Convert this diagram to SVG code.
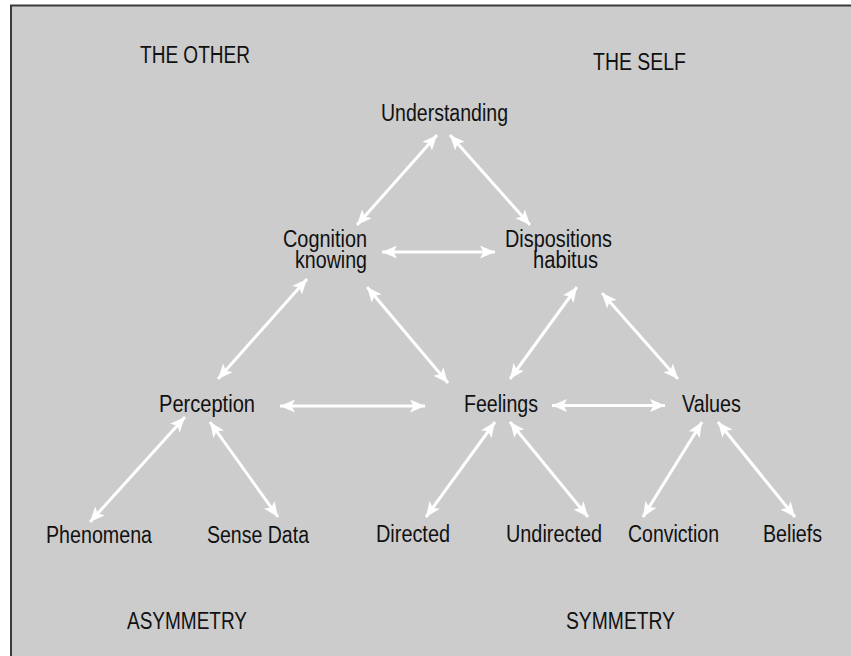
<svg xmlns="http://www.w3.org/2000/svg" width="851" height="656" viewBox="0 0 851 656">
<style>
text{font-family:"Liberation Sans",Arial,sans-serif;font-size:23px;fill:#111;}
.c line{stroke:#fff;stroke-width:3;marker-start:url(#ah);marker-end:url(#ah);}
</style>
<defs>
<marker id="ah" viewBox="0 0 15 13" refX="15" refY="6.5" markerWidth="15" markerHeight="13" markerUnits="userSpaceOnUse" orient="auto-start-reverse">
<path d="M0,0 L15,6.5 L0,13 L3.5,6.5 Z" fill="#fff"/>
</marker>
</defs>
<rect x="0" y="0" width="851" height="656" fill="#fff"/>
<rect x="11" y="5.5" width="850" height="660" fill="#cccccc" stroke="#3a3a3a" stroke-width="2"/>
<g id="labels">
<text x="140" y="63" textLength="110" lengthAdjust="spacingAndGlyphs">THE OTHER</text>
<text x="593" y="70" textLength="93" lengthAdjust="spacingAndGlyphs">THE SELF</text>
<text x="127" y="629" textLength="120" lengthAdjust="spacingAndGlyphs">ASYMMETRY</text>
<text x="566" y="629" textLength="109" lengthAdjust="spacingAndGlyphs">SYMMETRY</text>
</g>
<g id="understanding"><text x="381" y="120.5" textLength="127" lengthAdjust="spacingAndGlyphs">Understanding</text></g>
<g id="cognition"><text x="283" y="247" textLength="84" lengthAdjust="spacingAndGlyphs">Cognition</text><text x="295" y="268" textLength="72" lengthAdjust="spacingAndGlyphs">knowing</text></g>
<g id="dispositions"><text x="505" y="247" textLength="107" lengthAdjust="spacingAndGlyphs">Dispositions</text><text x="533" y="268" textLength="65" lengthAdjust="spacingAndGlyphs">habitus</text></g>
<g id="perception"><text x="159" y="411.5" textLength="96" lengthAdjust="spacingAndGlyphs">Perception</text></g>
<g id="feelings"><text x="464" y="412" textLength="74" lengthAdjust="spacingAndGlyphs">Feelings</text></g>
<g id="values"><text x="682" y="411.5" textLength="59" lengthAdjust="spacingAndGlyphs">Values</text></g>
<g id="phenomena"><text x="46" y="543" textLength="106" lengthAdjust="spacingAndGlyphs">Phenomena</text></g>
<g id="sensedata"><text x="207" y="543" textLength="102" lengthAdjust="spacingAndGlyphs">Sense Data</text></g>
<g id="directed"><text x="376" y="542" textLength="74" lengthAdjust="spacingAndGlyphs">Directed</text></g>
<g id="undirected"><text x="506" y="542" textLength="96" lengthAdjust="spacingAndGlyphs">Undirected</text></g>
<g id="conviction"><text x="628" y="542" textLength="91" lengthAdjust="spacingAndGlyphs">Conviction</text></g>
<g id="beliefs"><text x="763" y="542" textLength="59" lengthAdjust="spacingAndGlyphs">Beliefs</text></g>
<g id="connectors" class="c">
<line x1="437" y1="135" x2="357" y2="225"/>
<line x1="450" y1="135" x2="530" y2="225"/>
<line x1="382" y1="252" x2="495" y2="252"/>
<line x1="307" y1="279" x2="218" y2="379"/>
<line x1="367" y1="287" x2="448" y2="383"/>
<line x1="280" y1="406" x2="425" y2="406"/>
<line x1="577" y1="287" x2="510" y2="379"/>
<line x1="602" y1="293" x2="678" y2="379"/>
<line x1="552" y1="405.5" x2="665" y2="405.5"/>
<line x1="185" y1="417" x2="90" y2="522"/>
<line x1="210" y1="422" x2="278" y2="517"/>
<line x1="495" y1="422" x2="426" y2="517"/>
<line x1="510" y1="422" x2="588" y2="517"/>
<line x1="702" y1="422" x2="643" y2="517"/>
<line x1="718" y1="422" x2="795" y2="517"/>
</g>
</svg>
